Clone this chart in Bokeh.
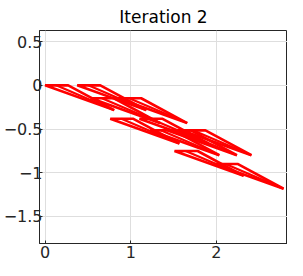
from bokeh.plotting import figure
from bokeh.models import Range1d, FixedTicker
from bokeh.embed import file_html
from bokeh.resources import INLINE

# top-left corners of each sliver
flag_x = [0.0, 0.375, 0.534, 0.852, 0.761, 1.102, 1.227, 1.432, 1.602, 1.511, 1.977]
flag_y = [0.0, 0.0, -0.148, -0.148, -0.383, -0.383, -0.516, -0.516, -0.516, -0.752, -0.9]
# sliver shape: top edge width, inner split point and tip offset
top_width = 0.27
inner_width = 0.13
tip_dx = 0.807
tip_dy = -0.284

x_ticks = [0, 1, 2]
y_ticks = [-1.5, -1, -0.5, 0, 0.5]

xs = [[x, x + top_width, x + tip_dx] for x in flag_x]
ys = [[y, y, y + tip_dy] for y in flag_y]
ixs = [[x + inner_width, x + tip_dx] for x in flag_x]
iys = [[y, y + tip_dy] for y in flag_y]

p = figure(width=287, height=260, output_backend="svg", toolbar_location=None,
           x_range=Range1d(-0.065, 2.83), y_range=Range1d(-1.811, 0.628),
           title="Iteration 2", min_border_left=0, min_border_right=0,
           min_border_top=0, min_border_bottom=0)

p.patches(xs, ys, fill_color=None, line_color="#ff0000", line_width=2.6)
p.multi_line(ixs, iys, line_color="#ff0000", line_width=2.2)

p.title.align = "center"
p.title.text_font = "DejaVu Sans"
p.title.text_font_size = "17px"
p.title.text_font_style = "normal"
p.title.text_color = "#000000"
p.title.standoff = 8

p.xaxis.ticker = FixedTicker(ticks=x_ticks)
p.yaxis.ticker = FixedTicker(ticks=y_ticks)
for ax in (p.xaxis[0], p.yaxis[0]):
    ax.major_label_text_font = "DejaVu Sans"
    ax.major_label_text_font_size = "16px"
    ax.major_label_text_color = "#262626"
    ax.axis_line_color = "#262626"
    ax.major_tick_line_color = "#262626"
    ax.major_tick_in = 3
    ax.major_tick_out = 0
    ax.minor_tick_line_color = None
p.yaxis.major_label_standoff = -3
p.xaxis.major_label_standoff = 2

p.xgrid.ticker = FixedTicker(ticks=x_ticks)
p.ygrid.ticker = FixedTicker(ticks=y_ticks)
p.grid.grid_line_color = "#dedede"
p.outline_line_color = "#262626"
p.outline_line_alpha = 1.0
p.background_fill_color = "#ffffff"
p.border_fill_color = "#ffffff"

open("out.html", "w").write(file_html(p, INLINE))
